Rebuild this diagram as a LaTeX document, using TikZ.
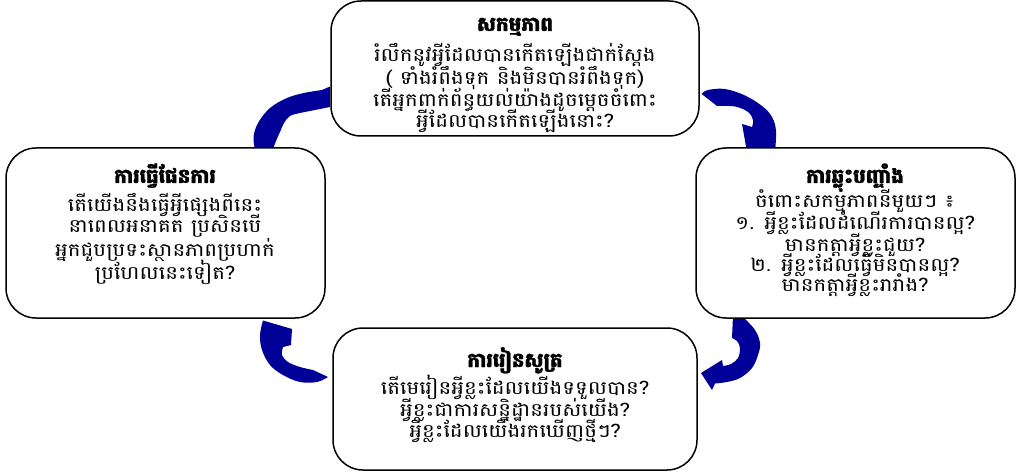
\documentclass[tikz,border=0pt]{standalone}
\usepackage{fontspec}
\newfontfamily\khmerttl[Script=Khmer,FakeBold=1.2]{Battambang}
\newfontfamily\khmerw[Script=Khmer,FakeStretch=1.16]{Battambang}
\definecolor{arrowblue}{RGB}{0,0,153}
\begin{document}
\begin{tikzpicture}[x=1pt,y=-1pt,
  box/.style={draw=black, line width=1.5pt, fill=white, rounded corners=30pt, inner sep=0pt},
  arr/.style={fill=arrowblue, draw=none},
  ttl/.style={font=\khmerttl\bfseries\fontsize{20}{22}\selectfont, anchor=base, inner sep=0pt},
  txt/.style={font=\khmerw\fontsize{18.5}{22}\selectfont, anchor=base, inner sep=0pt}]
\useasboundingbox (0,0) rectangle (1017,473);
% arrows
\fill[arr] plot[smooth, tension=0.6] coordinates {(255,149) (253.5,137) (258,123) (270,108) (287,98) (304,93) (322,90)}
  -- (330,86.5) -- (330,107) -- (300,113)
  -- plot[smooth, tension=0.6] coordinates {(300,113) (290,116) (284,123) (280,132) (276,141) (273,149)} -- cycle;
\fill[arr] plot[smooth, tension=0.6] coordinates {(701.7,94) (708,90) (725,89) (745,95.5) (762,106) (772,117) (776,131) (775,152)}
  -- (747,152) -- (742,124) -- (752,127)
  -- plot[smooth, tension=0.6] coordinates {(752,127) (753,120) (748,112) (735,106.5) (717,106)} -- cycle;
\fill[arr] (263,320.5) -- (292,329) -- (291,345) -- (283,347)
  -- plot[smooth, tension=0.6] coordinates {(283,347) (282,355) (288,362) (300,367) (313,370)}
  -- (328,377)
  -- plot[smooth, tension=0.6] coordinates {(328,377) (317,382) (300,382) (283,375) (270,365) (262,350) (260,335) (263,320.5)} -- cycle;
\fill[arr] (733,316) -- (744,316)
  -- plot[smooth, tension=0.6] coordinates {(744,318) (755,330) (760,343) (758,355) (752,368) (740,378) (727,382) (715,383.5)}
  -- (712,390) -- (701,373) -- (722,360) -- (723,366)
  -- plot[smooth, tension=0.6] coordinates {(723,366) (731,364) (738,358) (740,348) (737,341) (732,338)} -- cycle;
% boxes
\node[box, minimum width=368pt, minimum height=135pt] (top) at (515,68.5) {};
\node[box, minimum width=319pt, minimum height=170pt] (left) at (165.5,233) {};
\node[box, minimum width=319pt, minimum height=170pt] (right) at (855.5,233) {};
\node[box, minimum width=364pt, minimum height=142pt] (bottom) at (515,399) {};
% top text
\node[ttl] (t0) at (515,31) {សកម្មភាព};
\node[txt] (t1) at (515,61.8) {រំលឹកនូវអ្វីដែលបានកើតឡើងជាក់ស្តែង};
\node[txt] (t2) at (515,84.8) {( ទាំងរំពឹងទុក និងមិនបានរំពឹងទុក)};
\node[txt] (t3) at (515,106.8) {តើអ្នកពាក់ព័ន្ធយល់យ៉ាងដូចម្តេចចំពោះ};
\node[txt] (t4) at (515,127.8) {អ្វីដែលបានកើតឡើងនោះ?};
% left text
\node[ttl] (l0) at (165,183) {ការធ្វើផែនការ};
\node[txt] (l1) at (165,211.8) {តើយើងនឹងធ្វើអ្វីផ្សេងពីនេះ};
\node[txt] (l2) at (165,232.8) {នាពេលអនាគត ប្រសិនបើ};
\node[txt] (l3) at (165,256.8) {អ្នកជួបប្រទះស្ថានភាពប្រហាក់};
\node[txt] (l4) at (165,279.8) {ប្រហែលនេះទៀត?};
% right text
\node[ttl] (r0) at (855,183) {ការឆ្លុះបញ្ចាំង};
\node[txt] (r1) at (855,207.3) {ចំពោះសកម្មភាពនីមួយៗ ៖};
\node[txt] (r2) at (855,229.3) {១. អ្វីខ្លះដែលដំណើរការបានល្អ?};
\node[txt] (r3) at (855,251.3) {មានកត្តាអ្វីខ្លះជួយ?};
\node[txt] (r4) at (855,271.3) {២. អ្វីខ្លះដែលធ្វើមិនបានល្អ?};
\node[txt] (r5) at (855,291.3) {មានកត្តាអ្វីខ្លះរារាំង?};
% bottom text
\node[ttl] (b0) at (515,367) {ការរៀនសូត្រ};
\node[txt] (b1) at (515,394.8) {តើមេរៀនអ្វីខ្លះដែលយើងទទួលបាន?};
\node[txt] (b2) at (515,416.8) {អ្វីខ្លះជាការសន្និដ្ឋានរបស់យើង?};
\node[txt] (b3) at (515,437.8) {អ្វីខ្លះដែលយើងរកឃើញថ្មីៗ?};
\end{tikzpicture}
\end{document}
